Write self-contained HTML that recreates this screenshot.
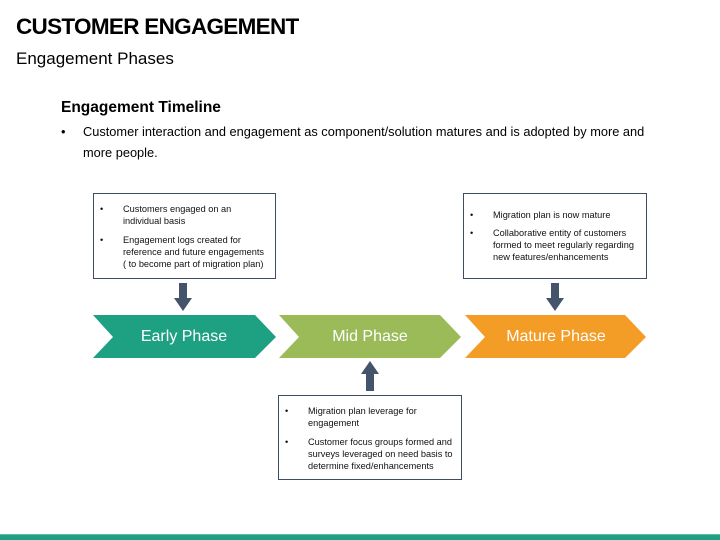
<!DOCTYPE html>
<html><head><meta charset="utf-8"><style>
*{margin:0;padding:0;box-sizing:border-box}
body{width:720px;height:540px;background:#fff;position:relative;overflow:hidden;font-family:"Liberation Sans",sans-serif;color:#000}
.a{position:absolute;white-space:nowrap}
.box{position:absolute;border:1px solid #3e4d63;background:#fff;font-size:9.2px;line-height:12px;color:#111}
.box ul{list-style:none}
.box li{position:relative;padding-left:29px;margin-bottom:7px;white-space:nowrap}
.box li:before{content:"•";position:absolute;left:6px;top:0}
.ph{position:absolute;color:#fff;font-size:16px;text-align:center;width:182px;top:328px}
</style></head><body>
<div class="a" style="left:16px;top:14px;font-size:22.5px;font-weight:bold;letter-spacing:-0.7px">CUSTOMER ENGAGEMENT</div>
<div class="a" style="left:16px;top:49px;font-size:17px">Engagement Phases</div>
<div class="a" style="left:61px;top:99px;font-size:15.5px;font-weight:bold">Engagement Timeline</div>
<div class="a" style="left:61px;top:124px;font-size:12.8px">•</div>
<div class="a" style="left:83px;top:124px;font-size:12.8px">Customer interaction and engagement as component/solution matures and is adopted by more and</div>
<div class="a" style="left:83px;top:145px;font-size:12.8px">more people.</div>

<div class="box" style="left:93px;top:193px;width:183px;height:86px;padding-top:9px">
<ul><li>Customers engaged on an<br>individual basis</li><li>Engagement logs created for<br>reference and future engagements<br>( to become part of migration plan)</li></ul></div>
<div class="box" style="left:463px;top:193px;width:184px;height:86px;padding-top:15px">
<ul><li style="margin-bottom:6px">Migration plan is now mature</li><li>Collaborative entity of customers<br>formed to meet regularly regarding<br>new features/enhancements</li></ul></div>
<div class="box" style="left:278px;top:395px;width:184px;height:85px;padding-top:9px">
<ul><li>Migration plan leverage for<br>engagement</li><li>Customer focus groups formed and<br>surveys leveraged on need basis to<br>determine fixed/enhancements</li></ul></div>

<svg class="a" style="left:0;top:0" width="720" height="540">
<polygon points="93,315 255,315 276,337 255,358 93,358 113,337" fill="#1ea083"/>
<polygon points="279,315 440,315 461,337 440,358 279,358 299,337" fill="#9bbb59"/>
<polygon points="465,315 625,315 646,337 625,358 465,358 485,337" fill="#f39c26"/>
<polygon points="179,283 187,283 187,298 192,298 183,311 174,298 179,298" fill="#44546a"/>
<polygon points="551,283 559,283 559,298 564,298 555,311 546,298 551,298" fill="#44546a"/>
<polygon points="366,391 374,391 374,374 379,374 370,361 361,374 366,374" fill="#44546a"/>
<rect x="0" y="534" width="720" height="6" fill="#1ea083"/>
<rect x="0" y="534" width="720" height="0.6" fill="#8fd0bf"/>
</svg>
<div class="ph" style="left:93px">Early Phase</div>
<div class="ph" style="left:279px">Mid Phase</div>
<div class="ph" style="left:465px">Mature Phase</div>
</body></html>
